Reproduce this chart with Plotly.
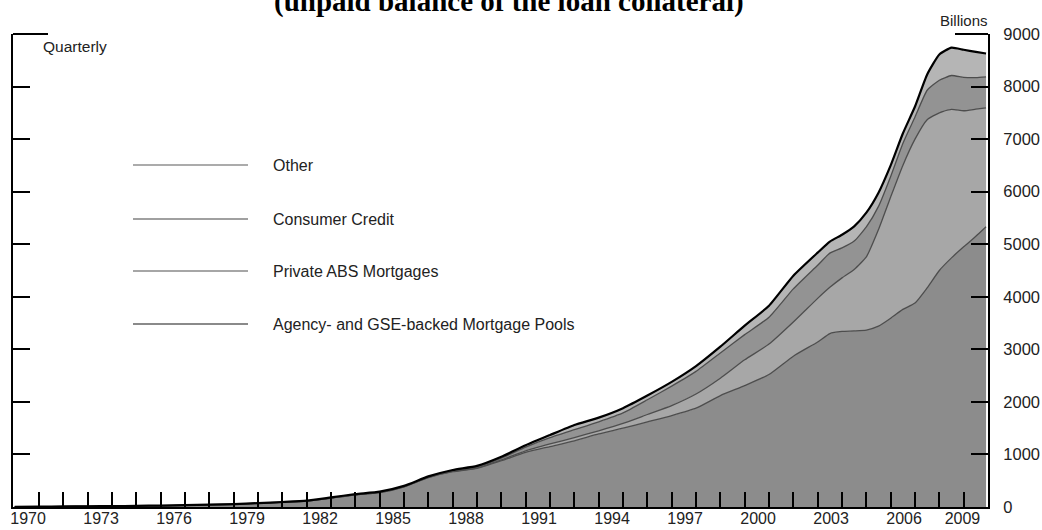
import plotly.graph_objects as go

# ---- data (billions) ----
years = [1970.0, 1971.0, 1972.0, 1973.0, 1974.0, 1975.0, 1976.0, 1977.0, 1978.0, 1979.0,
         1980.0, 1981.0, 1982.0, 1983.0, 1984.0, 1985.0, 1986.0, 1987.0, 1988.0, 1989.0,
         1990.0, 1991.0, 1992.0, 1993.0, 1994.0, 1995.0, 1996.0, 1997.0, 1998.0, 1999.0,
         2000.0, 2001.0, 2002.0, 2003.0, 2003.5, 2004.0, 2004.5, 2005.0, 2005.5, 2006.0,
         2006.5, 2007.0, 2007.5, 2008.0, 2008.5, 2009.0, 2009.5, 2009.92]
agency = [3, 5, 8, 11, 14, 18, 24, 32, 42, 50,
          70, 88, 112, 170, 232, 275, 385, 560, 672, 735,
          880, 1040, 1150, 1260, 1390, 1500, 1620, 1740, 1880, 2120,
          2310, 2520, 2870, 3140, 3300, 3340, 3350, 3367, 3440, 3590,
          3760, 3880, 4170, 4500, 4740, 4950, 5150, 5332]
private_abs = [0, 0, 0, 0, 0, 0, 0, 0, 0, 0,
               0, 0, 0, 0, 0, 0, 0, 2, 4, 7,
               15, 30, 50, 60, 60, 90, 140, 190, 270, 330,
               490, 580, 650, 830, 880, 1020, 1170, 1393, 1840, 2310,
               2740, 3120, 3200, 3000, 2824, 2590, 2420, 2263]
consumer = [1, 1, 1, 1, 1, 2, 2, 2, 2, 2,
            2, 3, 4, 6, 6, 7, 8, 8, 14, 20,
            35, 70, 120, 150, 170, 200, 280, 370, 430, 480,
            480, 510, 630, 630, 650, 570, 540, 570, 440, 390,
            417, 420, 560, 620, 646, 635, 600, 590]
other = [1, 1, 1, 1, 2, 2, 2, 2, 2, 3,
         3, 4, 4, 6, 7, 10, 9, 12, 14, 20,
         25, 35, 50, 90, 80, 90, 80, 80, 100, 120,
         170, 220, 250, 240, 220, 250, 280, 270, 260, 210,
         190, 200, 300, 490, 530, 525, 490, 444]

series_names = ["Agency- and GSE-backed Mortgage Pools", "Private ABS Mortgages",
                "Consumer Credit", "Other"]
legend_order = ["Other", "Consumer Credit", "Private ABS Mortgages",
                "Agency- and GSE-backed Mortgage Pools"]
year_labels = ["1970", "1973", "1976", "1979", "1982", "1985", "1988", "1991", "1994",
               "1997", "2000", "2003", "2006", "2009"]
y_ticks = [0, 1000, 2000, 3000, 4000, 5000, 6000, 7000, 8000, 9000]

# ---- styling ----
fills = ["#8c8c8c", "#a7a7a7", "#939393", "#b5b5b5"]
line_cols = ["#4d4d4d", "#4d4d4d", "#4d4d4d", "#000000"]
line_w = [1.3, 1.3, 1.3, 2.2]

fig = go.Figure()
for name, vals, fc, lc, lw in zip(series_names, [agency, private_abs, consumer, other],
                                  fills, line_cols, line_w):
    fig.add_trace(go.Scatter(x=years, y=vals, name=name, stackgroup="one", mode="lines",
                             line=dict(color=lc, width=lw, shape="spline", smoothing=0.5),
                             fillcolor=fc, showlegend=False, hoverinfo="skip"))

label_pos = [int(l) + 0.55 for l in year_labels]
label_pos[-1] = 2008.95

fig.update_xaxes(range=[1969.93, 2010.0], showline=True, linecolor="black", linewidth=2,
                 tickmode="array", tickvals=label_pos, ticktext=year_labels,
                 ticks="inside", ticklen=0, tickcolor="rgba(0,0,0,0)",
                 ticklabelstandoff=-4, automargin=False,
                 tickfont=dict(family="Liberation Sans, Arial", size=16, color="#222"),
                 minor=dict(tickmode="array", tickvals=list(range(1971, 2010)),
                            ticks="inside", ticklen=15, tickwidth=2, tickcolor="black"),
                 showgrid=False, zeroline=False, fixedrange=True)
fig.update_yaxes(range=[0, 9000], side="right", showline=True, linecolor="black", linewidth=2,
                 mirror="ticks", tickmode="array", tickvals=y_ticks,
                 ticks="inside", ticklen=17, tickwidth=2, tickcolor="black",
                 ticklabelstandoff=10, automargin=False,
                 tickfont=dict(family="Liberation Sans, Arial", size=16.5, color="#222"),
                 showgrid=False, zeroline=False, fixedrange=True)

W, H = 1042, 530
L, R, T, B = 13, 54, 34, 23
pw, ph = W - L - R, H - T - B

def px(xp):
    return (xp - L) / pw

def py(yp):
    return (H - B - yp) / ph

shapes = [
    dict(type="line", xref="paper", yref="paper", x0=0, x1=px(48), y0=1, y1=1,
         line=dict(color="black", width=2)),
    dict(type="line", xref="paper", yref="paper", x0=px(955), x1=1, y0=1, y1=1,
         line=dict(color="black", width=2)),
]
annotations = []
leg_y = [165, 219, 271, 324]
leg_col = ["#ababab", "#a0a0a0", "#a6a6a6", "#8a8a8a"]
for name, yp, col in zip(legend_order, leg_y, leg_col):
    shapes.append(dict(type="line", xref="paper", yref="paper", x0=px(133), x1=px(248),
                       y0=py(yp), y1=py(yp), line=dict(color=col, width=2)))
    annotations.append(dict(text=name, xref="paper", yref="paper", x=px(271), y=py(yp),
                            xanchor="left", yanchor="middle", showarrow=False,
                            font=dict(family="Liberation Sans, Arial", size=16, color="#222")))

annotations.append(dict(text="Quarterly", xref="paper", yref="paper", x=px(41), y=py(47),
                        xanchor="left", yanchor="middle", showarrow=False,
                        font=dict(family="Liberation Sans, Arial", size=15.5, color="#222")))
annotations.append(dict(text="Billions", xref="paper", yref="paper", x=px(964), y=py(20),
                        xanchor="center", yanchor="middle", showarrow=False,
                        font=dict(family="Liberation Sans, Arial", size=15, color="#222")))
annotations.append(dict(text="<b>(unpaid balance of the loan collateral)</b>", xref="paper",
                        yref="paper", x=px(509), y=py(1), xanchor="center", yanchor="middle",
                        showarrow=False,
                        font=dict(family="Liberation Serif, Times New Roman", size=29,
                                  color="black")))

fig.update_layout(width=W, height=H, margin=dict(l=L, r=R, t=T, b=B),
                  plot_bgcolor="white", paper_bgcolor="white",
                  shapes=shapes, annotations=annotations, showlegend=False)

fig.write_html("out.html", config={"displayModeBar": False},
               post_script="document.body.style.margin='0px';document.body.style.overflow='hidden';")
